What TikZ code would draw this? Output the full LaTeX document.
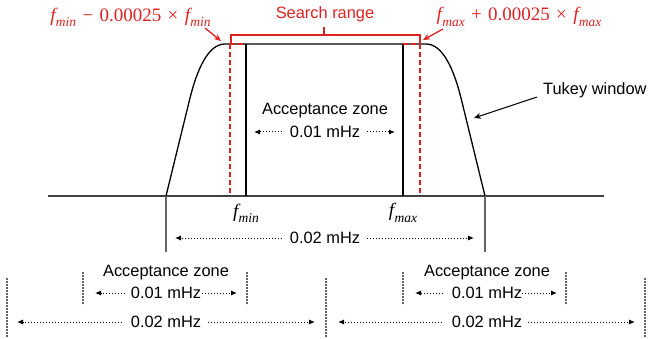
\documentclass[tikz,border=0pt]{standalone}
\usepackage{fontspec}
\setmainfont{Liberation Sans}
\newfontfamily\mserif{Liberation Serif}
\usetikzlibrary{arrows.meta}
\definecolor{myred}{RGB}{220,35,35}
\definecolor{axisgray}{RGB}{64,64,64}
\definecolor{dashgray}{RGB}{100,100,100}
\newcommand{\fsb}[1]{{\itshape f\kern0.02em\raisebox{-0.28em}{\fontsize{13.5}{14}\selectfont #1}}}
\begin{document}
\begin{tikzpicture}[x=1pt,y=-1pt,
  lbl/.style={font=\fontsize{16.4}{19}\selectfont, inner sep=0pt},
  mth/.style={font=\mserif\fontsize{19}{21}\selectfont, inner sep=0pt},
  darr/.style={dotted, line width=1pt, -{Latex[length=6pt,width=5pt]}},
  redarr/.style={myred, line width=1.3pt, -{Stealth[length=7pt,width=6pt]}},
  blkarr/.style={black, line width=1pt, -{Stealth[length=7pt,width=6pt]}},
  win/.style={black, line width=1.3pt},
  reddash/.style={myred, line width=1.4pt, dash pattern=on 5pt off 3pt},
  graydash/.style={dashgray, line width=1.3pt, dash pattern=on 2pt off 1pt},
  gline/.style={dashgray, line width=1.2pt}]
\useasboundingbox (0,0) rectangle (650,339);

% axis
\coordinate (ax1) at (48,196);
\coordinate (ax2) at (604,196);
\draw[axisgray, line width=2pt] (ax1) -- (ax2);

% red dashed search bounds
\coordinate (r1t) at (230,44); \coordinate (r1b) at (230,196);
\coordinate (r2t) at (420,44); \coordinate (r2b) at (420,196);
\coordinate (b1t) at (246,44); \coordinate (b1b) at (246,196);
\coordinate (b2t) at (403,44); \coordinate (b2b) at (403,196);

% acceptance zone solid lines
\draw[win] (b1t) -- (b1b);
\draw[win] (b2t) -- (b2b);

% Tukey window
\coordinate (wl) at (166,196);
\coordinate (wr) at (485,196);
\draw[win, line join=round] (wl) -- (190,98) .. controls (197,70) and (208,44) .. (225,44)
  -- (426,44) .. controls (443,44) and (454,70) .. (461,98) -- (wr);

\draw[reddash] (r1t) -- (r1b);
\draw[reddash] (r2t) -- (r2b);
\draw[reddash] (r1t) -- (b1t);
\draw[reddash] (b2t) -- (r2t);

% search range bracket
\coordinate (s1) at (231,43); \coordinate (s2) at (420,43);
\coordinate (sc) at (324,35); \coordinate (sct) at (324,27);
\draw[myred, line width=1.8pt] (s1) -- (231,35) -- (420,35) -- (s2);
\draw[myred, line width=1.8pt] (sc) -- (sct);
\node[lbl, text=myred] (sr) at (325,14) {Search range};

% formulas
\node[mth, text=myred] (fl) at (130.5,17) {\fsb{min}\,\,−\,\,0.00025\,\,×\,\,\fsb{min}};
\node[mth, text=myred] (fr) at (519,17) {\fsb{max}\,\,+\,\,0.00025\,\,×\,\,\fsb{max}};
\coordinate (fla) at (205,28); \coordinate (flb) at (221,41);
\coordinate (fra) at (443,29); \coordinate (frb) at (423,40);
\draw[redarr] (fla) -- (flb);
\draw[redarr] (fra) -- (frb);

% Tukey window label
\node[lbl, anchor=west] (tk) at (543,90) {Tukey window};
\coordinate (tka) at (537,97); \coordinate (tkb) at (474,118);
\draw[blkarr] (tka) -- (tkb);

% middle acceptance zone
\node[lbl] (az) at (325,111) {Acceptance zone};
\node[lbl] (m01) at (325,132) {0.01 mHz};
\coordinate (m01a) at (282,132); \coordinate (m01b) at (254,132);
\coordinate (m01c) at (367,132); \coordinate (m01d) at (395,132);
\draw[darr] (m01a) -- (m01b);
\draw[darr] (m01c) -- (m01d);

% f labels
\node[mth] (fmin) at (246,213) {\fsb{min}};
\node[mth] (fmax) at (403,213) {\fsb{max}};

% 0.02 mHz middle
\coordinate (vl) at (166,252); \coordinate (vr) at (485,252);
\draw[gline] (wl) -- (vl);
\draw[gline] (wr) -- (vr);
\node[lbl] (m02) at (325,238) {0.02 mHz};
\coordinate (m02a) at (282,238); \coordinate (m02b) at (175,238);
\coordinate (m02c) at (367,238); \coordinate (m02d) at (474,238);
\draw[darr] (m02a) -- (m02b);
\draw[darr] (m02c) -- (m02d);

% bottom left group
\draw[graydash] (7,278) -- (7,337);
\draw[graydash] (83,272) -- (83,305);
\draw[graydash] (247,272) -- (247,305);
\draw[graydash] (326,278) -- (326,337);
\node[lbl] (laz) at (166,273) {Acceptance zone};
\node[lbl] (l01) at (166,293) {0.01 mHz};
\node[lbl] (l02) at (166,322) {0.02 mHz};
\coordinate (l1a) at (125,293); \coordinate (l1b) at (95,293);
\coordinate (l1c) at (202,293); \coordinate (l1d) at (237,293);
\draw[darr] (l1a) -- (l1b);
\draw[darr] (l1c) -- (l1d);
\coordinate (l2a) at (122,322); \coordinate (l2b) at (17,322);
\coordinate (l2c) at (208,322); \coordinate (l2d) at (315,322);
\draw[darr] (l2a) -- (l2b);
\draw[darr] (l2c) -- (l2d);

% bottom right group
\draw[graydash] (403,272) -- (403,305);
\draw[graydash] (566,272) -- (566,305);
\draw[graydash] (645,278) -- (645,337);
\node[lbl] (raz) at (487,273) {Acceptance zone};
\node[lbl] (r01) at (487,293) {0.01 mHz};
\node[lbl] (r02) at (487,322) {0.02 mHz};
\coordinate (q1a) at (443,293); \coordinate (q1b) at (415,293);
\coordinate (q1c) at (522,293); \coordinate (q1d) at (557,293);
\draw[darr] (q1a) -- (q1b);
\draw[darr] (q1c) -- (q1d);
\coordinate (q2a) at (442,322); \coordinate (q2b) at (338,322);
\coordinate (q2c) at (528,322); \coordinate (q2d) at (635,322);
\draw[darr] (q2a) -- (q2b);
\draw[darr] (q2c) -- (q2d);
\end{tikzpicture}
\end{document}
